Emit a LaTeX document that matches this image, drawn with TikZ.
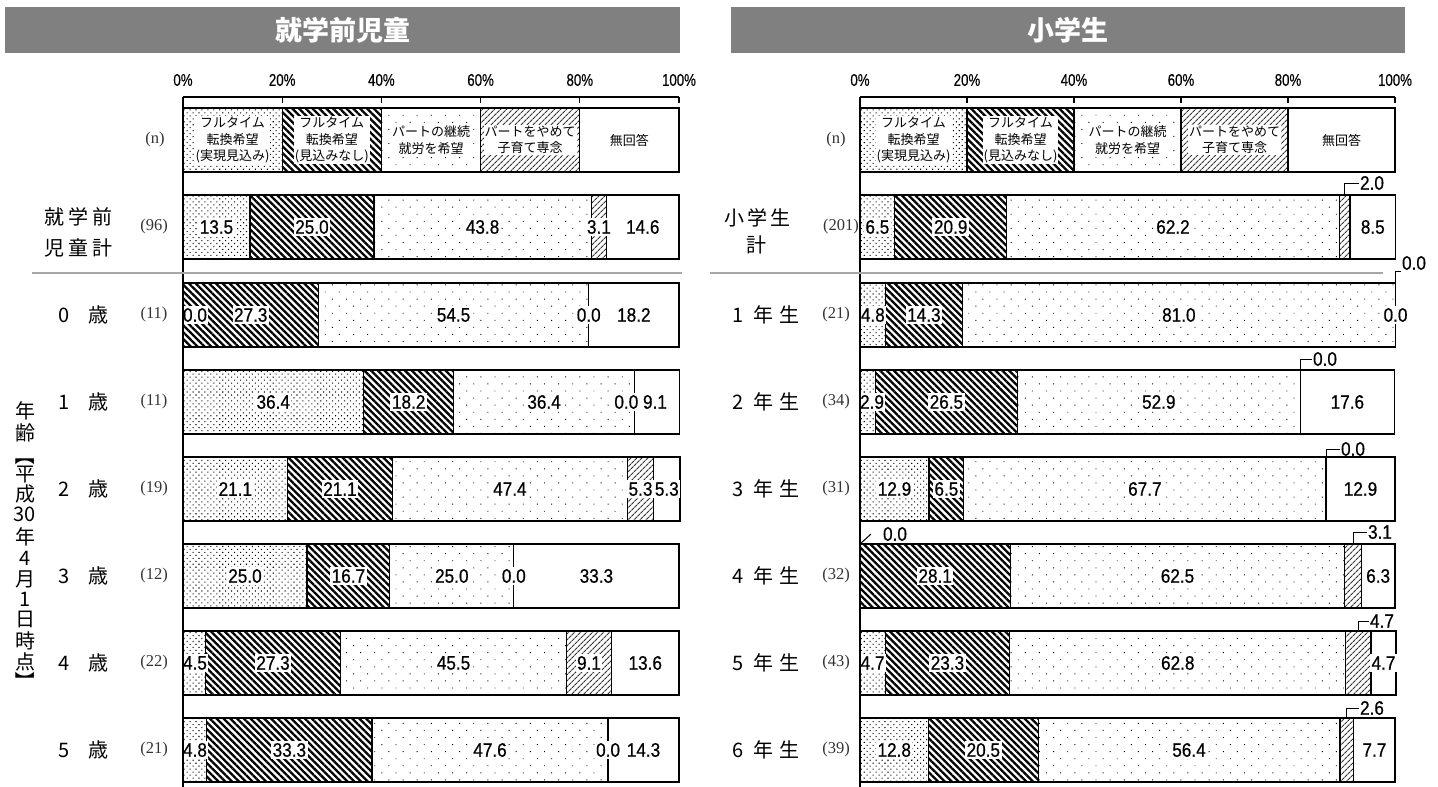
\documentclass[tikz,border=0pt]{standalone}
\usepackage{fontspec}
\setmainfont{Liberation Sans}
\newfontfamily\jpfont{Noto Sans CJK JP}
\newfontfamily\numfont[FakeStretch=0.88,FakeBold=0.6]{Liberation Sans}
\newfontfamily\tickfont[FakeStretch=0.78,FakeBold=0.4]{Liberation Sans}
\newfontfamily\nfont{Liberation Serif}
\usetikzlibrary{patterns.meta}

\definecolor{headgray}{RGB}{128,128,128}
\definecolor{sepgray}{RGB}{166,166,166}

\tikzset{
  seg1/.style={draw,line width=1.3pt,pattern={Dots[angle=45,distance=4.2pt,radius=0.75pt]}},
  seg2/.style={draw,line width=1.3pt,pattern={Lines[angle=-45,distance=4.8pt,line width=2.3pt]}},
  seg3/.style={draw,line width=1.3pt,pattern={Dots[angle=45,distance=10pt,radius=0.65pt]}},
  seg4/.style={draw,line width=1.3pt,pattern={Lines[angle=45,distance=4pt,line width=1.1pt]},pattern color=black!80},
  seg5/.style={draw,line width=1.3pt,fill=white},
  vallab/.style={fill=white,inner xsep=1.5pt,inner ysep=2.5pt,font=\numfont\fontsize{19.5}{19.5}\selectfont},
  outlab/.style={inner sep=1pt,font=\numfont\fontsize{19.5}{19.5}\selectfont},
  callout/.style={line width=1pt},
  ticklab/.style={inner sep=0pt,font=\tickfont\fontsize{17}{17}\selectfont},
  legtext/.style={fill=white,align=center,inner sep=1pt,font=\jpfont\fontsize{13}{16.5}\selectfont},
  jplab/.style={inner sep=0pt,font=\jpfont\fontsize{20}{20}\selectfont},
  nlab/.style={inner sep=0pt,text=black!80,font=\nfont\fontsize{16.5}{16.5}\selectfont},
  head/.style={fill=headgray,text=white,minimum height=46pt,inner sep=0pt,font=\jpfont\bfseries\fontsize{27}{27}\selectfont},
  axis/.style={line width=1.2pt},
  sepline/.style={draw=sepgray,line width=2.5pt}
}

% one stacked bar: name, x of 0%, pt per %, top y, values, labels drawn inside
\newcommand{\stackbar}[6]{%
  \xdef\cumsum{0}%
  \foreach \v [count=\i] in {#5}{%
    \pgfmathsetmacro\xa{#2+\cumsum*#3}%
    \pgfmathsetmacro\xb{#2+(\cumsum+\v)*#3}%
    \pgfmathsetmacro\xc{(\xa+\xb)/2}%
    \pgfmathsetmacro\xl{max(\xc,#2+12)}%
    \draw[seg\i] (\xa,#4) rectangle (\xb,#4+64);%
    \coordinate (#1-t\i) at (\xc,#4);%
    \coordinate (#1-c\i) at (\xl,#4+32);%
    \expandafter\xdef\csname #1-v\i\endcsname{\v}%
    \pgfmathsetmacro\newsum{\cumsum+\v}%
    \xdef\cumsum{\newsum}%
  }%
  \def\tmplist{#6}%
  \ifx\tmplist\empty\else
    \foreach \k in {#6}{\node[vallab] (#1-l\k) at (#1-c\k) {\csname #1-v\k\endcsname};}%
  \fi
}

\begin{document}
\begin{tikzpicture}[x=1pt,y=-1pt]
    \useasboundingbox (0,0) rectangle (1438,787);
    % headers
    \node[head,minimum width=675pt] (pre-head) at (342.5,30) {就学前児童};
    \node[head,minimum width=674pt] (sho-head) at (1068,30) {小学生};

    % ---- 就学前児童 ----
    \stackbar{pre-leg}{183}{4.96}{108}{20,20,20,20,20}{}
    \node[legtext] (pre-leg1) at (pre-leg-c1) {フルタイム\\転換希望\\(実現見込み)};
    \node[legtext] (pre-leg2) at (pre-leg-c2) {フルタイム\\転換希望\\(見込みなし)};
    \node[legtext] (pre-leg3) at (pre-leg-c3) {パートの継続\\就労を希望};
    \node[legtext] (pre-leg4) at (pre-leg-c4) {パートをやめて\\子育て専念};
    \node[legtext] (pre-leg5) at (pre-leg-c5) {無回答};
    \stackbar{pre-tot}{183}{4.96}{195}{13.5,25.0,43.8,3.1,14.6}{1,2,3,4,5}
    \stackbar{pre0}{183}{4.96}{283}{0.0,27.3,54.5,0.0,18.2}{1,2,3,4,5}
    \stackbar{pre1}{183}{4.96}{370}{36.4,18.2,36.4,0.0,9.1}{1,2,3}
    \node[vallab] (pre1-l4) at ([xshift=-8pt]pre1-c4) {0.0};
    \node[vallab] (pre1-l5) at ([xshift=-2pt]pre1-c5) {9.1};
    \stackbar{pre2}{183}{4.96}{457}{21.1,21.1,47.4,5.3,5.3}{1,2,3,4,5}
    \stackbar{pre3}{183}{4.96}{544}{25.0,16.7,25.0,0.0,33.3}{1,2,3,4,5}
    \stackbar{pre4}{183}{4.96}{631}{4.5,27.3,45.5,9.1,13.6}{1,2,3,4,5}
    \stackbar{pre5}{183}{4.96}{718}{4.8,33.3,47.6,0.0,14.3}{1,2,3,4,5}
    \foreach \p in {0,20,...,100} {
        \draw[axis] (183+4.96*\p,97) -- (183+4.96*\p,103);
        \node[ticklab] (pre-tick\p) at (183+4.96*\p,80) {\p\%};
    }
    \draw[axis] (183,97) -- (679,97);
    \draw[axis] (183,97) -- (183,787);
    \draw[sepline] (32,273) -- (682,273);
    \node[nlab] (pre-n) at (155,140) {(n)};
    \node[jplab] (pre-tot-a) at (78,217) {就\kern4pt 学\kern4pt 前};
    \node[jplab] (pre-tot-b) at (78,248) {児\kern4pt 童\kern4pt 計};
    \node[nlab] (pre-tot-n) at (154,227) {(96)};
    \foreach \a/\n [count=\r from 0] in {0/11,1/11,2/19,3/12,4/22,5/21} {
        \node[jplab,anchor=west] (pre-age\a) at (58,315+87*\r) {\a\kern19pt 歳};
        \node[nlab] (pre-n\a) at (154,315+87*\r) {(\n)};
    }
    % vertical axis title
    \foreach \ch/\yy in {年/411,齢/433,平/475,成/494,30/514,年/537,4/558,月/579,1/599,日/619,時/641,点/662}
        \node[jplab] (pre-yl\yy) at (25,\yy) {\ch};
    \node[jplab,rotate=-90] (pre-yl-open) at (25,455) {【};
    \node[jplab,rotate=-90] (pre-yl-close) at (25,681) {】};

    % ---- 小学生 ----
    \stackbar{sho-leg}{860}{5.35}{108}{20,20,20,20,20}{}
    \node[legtext] (sho-leg1) at (sho-leg-c1) {フルタイム\\転換希望\\(実現見込み)};
    \node[legtext] (sho-leg2) at (sho-leg-c2) {フルタイム\\転換希望\\(見込みなし)};
    \node[legtext] (sho-leg3) at (sho-leg-c3) {パートの継続\\就労を希望};
    \node[legtext] (sho-leg4) at (sho-leg-c4) {パートをやめて\\子育て専念};
    \node[legtext] (sho-leg5) at (sho-leg-c5) {無回答};
    \stackbar{sho-tot}{860}{5.35}{195}{6.5,20.9,62.2,2.0,8.5}{1,2,3,5}
    \stackbar{sho1}{860}{5.35}{283}{4.8,14.3,81.0,0.0,0.0}{1,2,3,5}
    \stackbar{sho2}{860}{5.35}{370}{2.9,26.5,52.9,0.0,17.6}{1,2,3,5}
    \stackbar{sho3}{860}{5.35}{457}{12.9,6.5,67.7,0.0,12.9}{1,2,3,5}
    \stackbar{sho4}{860}{5.35}{544}{0.0,28.1,62.5,3.1,6.3}{2,3,5}
    \stackbar{sho5}{860}{5.35}{631}{4.7,23.3,62.8,4.7,4.7}{1,2,3,5}
    \stackbar{sho6}{860}{5.35}{718}{12.8,20.5,56.4,2.6,7.7}{1,2,3,5}
    \foreach \p in {0,20,...,100} {
        \draw[axis] (860+5.35*\p,97) -- (860+5.35*\p,103);
        \node[ticklab] (sho-tick\p) at (860+5.35*\p,80) {\p\%};
    }
    \draw[axis] (860,97) -- (1395,97);
    \draw[axis] (860,97) -- (860,787);
    \draw[sepline] (710,273) -- (1383,273);
    \node[nlab] (sho-n) at (836,140) {(n)};
    \node[jplab] (sho-tot-a) at (757,218) {小\kern3pt 学\kern3pt 生};
    \node[jplab] (sho-tot-b) at (756,245) {計};
    \node[nlab] (sho-tot-n) at (841,227) {(201)};
    \foreach \g/\n [count=\r from 0] in {1/21,2/34,3/31,4/32,5/43,6/39} {
        \node[jplab,anchor=west] (sho-grade\g) at (732,315+87*\r) {\g\kern10pt 年\kern6pt 生};
        \node[nlab] (sho-n\g) at (836,315+87*\r) {(\n)};
    }
    % values pulled out of the bars
    \node[outlab] (sho-tot-o4) at (1372,183) {2.0};
    \draw[callout] (sho-tot-t4) |- (sho-tot-o4.west);
    \node[outlab] (sho1-o4) at (1414,263) {0.0};
    \draw[callout] (sho1-t4) |- (sho1-o4.south west);
    \node[outlab] (sho2-o4) at (1325,359) {0.0};
    \draw[callout] (sho2-t4) |- (sho2-o4.west);
    \node[outlab] (sho3-o4) at (1353,449) {0.0};
    \draw[callout] (sho3-t4) |- (sho3-o4.west);
    \node[outlab] (sho4-o1) at (895,534) {0.0};
    \coordinate (sho4-k1) at (871,534);
    \draw[callout] (sho4-t1) -- (sho4-k1);
    \node[outlab] (sho4-o4) at (1380,532) {3.1};
    \draw[callout] (sho4-t4) |- (sho4-o4.west);
    \node[outlab] (sho5-o4) at (1382,621) {4.7};
    \draw[callout] (sho5-t4) |- (sho5-o4.west);
    \node[outlab] (sho6-o4) at (1372,708) {2.6};
    \draw[callout] (sho6-t4) |- (sho6-o4.west);
\end{tikzpicture}
\end{document}
